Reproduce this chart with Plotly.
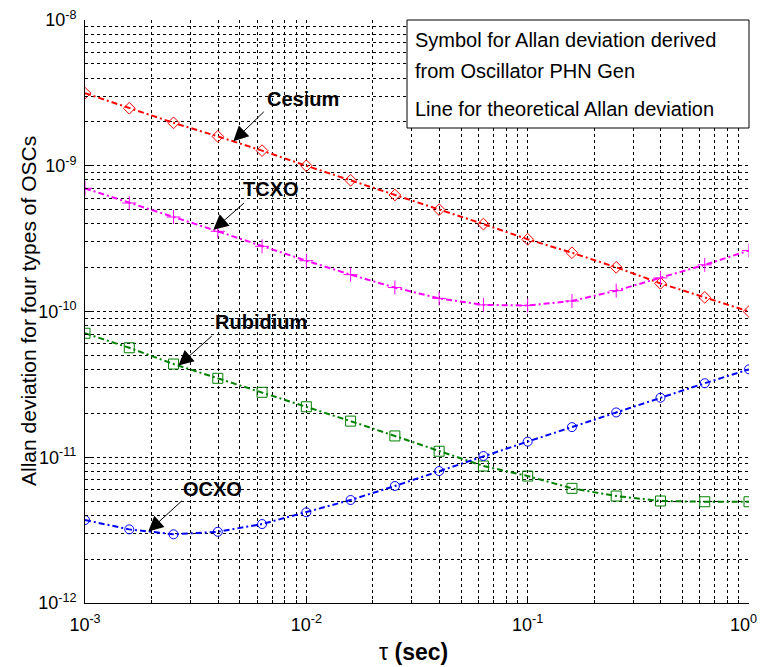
import numpy as np
import plotly.graph_objects as go

# Averaging times (s)
tau = [1.000e-3, 1.585e-3, 2.512e-3, 3.981e-3, 6.310e-3,
       1.000e-2, 1.585e-2, 2.512e-2, 3.981e-2, 6.310e-2,
       1.000e-1, 1.585e-1, 2.512e-1, 3.981e-1, 6.310e-1, 1.000]

# Allan deviation of each oscillator type
cesium = [3.15e-9, 2.48e-9, 1.97e-9, 1.59e-9, 1.27e-9, 1.00e-9, 7.95e-10, 6.30e-10,
          5.00e-10, 3.98e-10, 3.13e-10, 2.53e-10, 2.01e-10, 1.56e-10, 1.25e-10, 1.00e-10]
tcxo = [7.00e-10, 5.55e-10, 4.45e-10, 3.55e-10, 2.80e-10, 2.23e-10, 1.79e-10, 1.46e-10,
        1.23e-10, 1.11e-10, 1.10e-10, 1.18e-10, 1.39e-10, 1.70e-10, 2.09e-10, 2.62e-10]
rubidium = [7.09e-11, 5.64e-11, 4.36e-11, 3.48e-11, 2.79e-11, 2.22e-11, 1.77e-11, 1.40e-11,
            1.10e-11, 8.71e-12, 7.43e-12, 6.12e-12, 5.42e-12, 5.01e-12, 4.95e-12, 4.95e-12]
ocxo = [3.71e-12, 3.20e-12, 2.96e-12, 3.08e-12, 3.48e-12, 4.19e-12, 5.09e-12, 6.35e-12,
        8.04e-12, 1.02e-11, 1.28e-11, 1.61e-11, 2.03e-11, 2.56e-11, 3.22e-11, 4.01e-11]

names = ["Cesium", "TCXO", "Rubidium", "OCXO"]
series = [cesium, tcxo, rubidium, ocxo]
colors = ["#ff0000", "#ff00ff", "#008000", "#0000ff"]
symbols = ["diamond-open", "cross-thin-open", "square-open", "circle-open"]
msizes = [9, 10, 10, 9]

# where each name label points on its curve (log10 of tau)
label_tau_log = [-2.330, -2.420, -2.578, -2.714]
arrow_tail = [(32, -31), (32, -28), (35, -31), (35, -32)]
text_offset = [(70, -42), (58, -41), (83, -44), (64, -43)]

x_tick_vals = [1e-3, 1e-2, 1e-1, 1e0]
x_tick_text = ["10<sup>-3</sup>", "10<sup>-2</sup>", "10<sup>-1</sup>", "10<sup>0</sup>"]
y_tick_vals = [1e-12, 1e-11, 1e-10, 1e-9, 1e-8]
y_tick_text = ["10<sup>-12</sup>", "10<sup>-11</sup>", "10<sup>-10</sup>", "10<sup>-9</sup>", "10<sup>-8</sup>"]

box_lines = ["Symbol for Allan deviation derived", "from Oscillator PHN Gen",
             "Line for theoretical Allan deviation"]

FONT = "Liberation Sans, Arial, sans-serif"
W, H = 760, 667
ML, MR, MT, MB = 85, 11, 20, 64
PW, PH = W - ML - MR, H - MT - MB


def px(xp):
    return (xp - ML) / PW


def py(yp):
    return (H - MB - yp) / PH


fig = go.Figure()
for name, vals, c, s, ms in zip(names, series, colors, symbols, msizes):
    fig.add_trace(go.Scatter(
        x=tau, y=vals, name=name, mode="lines+markers",
        line=dict(color=c, width=2, dash="6px,3px,2px,3px"),
        marker=dict(symbol=s, size=ms, color=c, line=dict(color=c, width=1)),
        showlegend=False,
    ))

annotations = []
for name, vals, lt, (tx, ty), (ox, oy) in zip(names, series, label_tau_log, arrow_tail, text_offset):
    ly = np.interp(lt, np.log10(tau), np.log10(vals))
    annotations.append(dict(
        x=lt, y=ly, xref="x", yref="y", text="", showarrow=True,
        ax=tx, ay=ty, arrowhead=2, arrowsize=3, arrowwidth=1, arrowcolor="black",
        standoff=0, startstandoff=0,
    ))
    annotations.append(dict(
        x=lt, y=ly, xref="x", yref="y", text=f"<b>{name}</b>", showarrow=True,
        ax=ox, ay=oy, arrowcolor="rgba(0,0,0,0)", arrowwidth=0.1,
        font=dict(family=FONT, size=20, color="black"),
    ))

# text inside the note box
for txt, yc in zip(box_lines, [40, 70.5, 108.5]):
    annotations.append(dict(
        x=px(413), y=py(yc), xref="paper", yref="paper", text=txt, showarrow=False,
        xanchor="left", yanchor="middle",
        font=dict(family=FONT, size=20, color="black"),
    ))

# the last x tick label sits against the right edge, so it is right-aligned
annotations.append(dict(
    x=px(759), y=py(623), xref="paper", yref="paper", text=x_tick_text[-1],
    showarrow=False, xanchor="right", yanchor="middle",
    font=dict(family=FONT, size=18, color="black"),
))

# axis titles
annotations.append(dict(
    x=px(28), y=py(311), xref="paper", yref="paper", textangle=-90,
    text="Allan deviation for four types of OSCs", showarrow=False,
    xanchor="center", yanchor="middle", font=dict(family=FONT, size=21, color="black"),
))
annotations.append(dict(
    x=px(413), y=py(652), xref="paper", yref="paper",
    text="τ <b>(sec)</b>", showarrow=False,
    xanchor="center", yanchor="middle", font=dict(family=FONT, size=23, color="black"),
))

minor_x = [k * 10.0 ** n for n in range(-3, 0) for k in range(2, 10)]
minor_y = [k * 10.0 ** n for n in range(-12, -8) for k in range(2, 10)]
grid_dash = "3px,3px"

axis_common = dict(
    type="log", showline=True, linecolor="black", linewidth=1, mirror=False,
    ticks="inside", ticklen=6, tickcolor="black",
    showgrid=True, gridcolor="black", gridwidth=1, griddash=grid_dash,
    tickfont=dict(family=FONT, size=18, color="black"),
    automargin=False, zeroline=False,
)

fig.update_layout(
    width=W, height=H, autosize=False,
    margin=dict(l=ML, r=MR, t=MT, b=MB, autoexpand=False),
    paper_bgcolor="white", plot_bgcolor="white",
    font=dict(family=FONT, size=18, color="black"),
    xaxis=dict(
        range=[-3, 0], tickvals=x_tick_vals, ticktext=x_tick_text[:-1] + [""],
        minor=dict(tickvals=minor_x, showgrid=True, gridcolor="black", gridwidth=1,
                   griddash=grid_dash, ticks="inside", ticklen=3, tickcolor="black"),
        ticklabelstandoff=5,
        **axis_common,
    ),
    yaxis=dict(
        range=[-12, -8], tickvals=y_tick_vals, ticktext=y_tick_text,
        minor=dict(tickvals=minor_y, showgrid=True, gridcolor="black", gridwidth=1,
                   griddash=grid_dash, ticks="inside", ticklen=3, tickcolor="black"),
        ticklabelstandoff=4,
        **axis_common,
    ),
    shapes=[dict(
        type="rect", xref="paper", yref="paper",
        x0=px(407), x1=px(749), y0=py(128), y1=py(20),
        line=dict(color="black", width=1), fillcolor="white", layer="above",
    )],
    annotations=annotations,
)

fig.write_html("out.html")
